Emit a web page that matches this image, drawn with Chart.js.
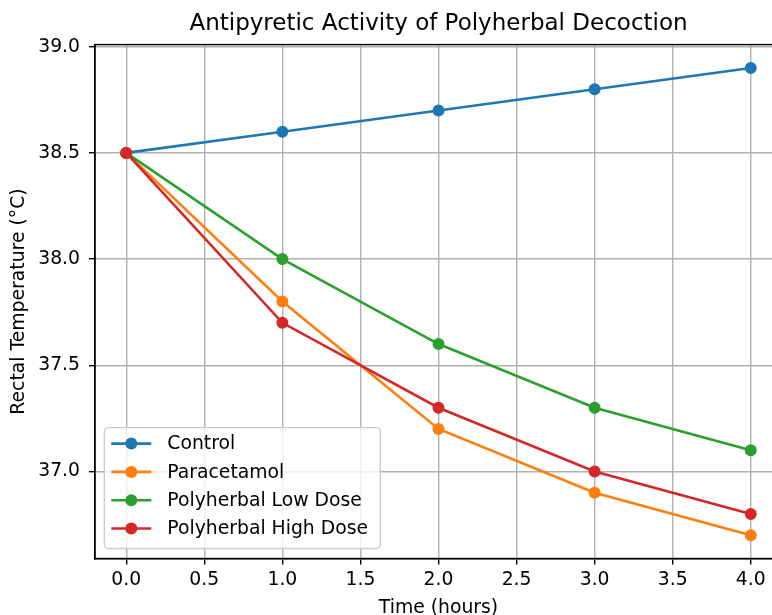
<!DOCTYPE html>
<html>
<head>
<meta charset="utf-8">
<title>Antipyretic Activity of Polyherbal Decoction</title>
<script src="https://cdn.jsdelivr.net/npm/chart.js@4.4.0/dist/chart.umd.min.js"></script>
<style>
    html, body { margin: 0; padding: 0; overflow: hidden; background: #fff; }
    #chart-wrap { width: 800px; height: 640px; }
</style>
</head>
<body>
<div id="chart-wrap"><canvas id="temp-chart" width="800" height="640"></canvas></div>
<script>
// Data
const timePoints = [0, 1, 2, 3, 4];
const controlTemps = [38.5, 38.6, 38.7, 38.8, 38.9];
const paracetamolTemps = [38.5, 37.8, 37.2, 36.9, 36.7];
const lowDoseTemps = [38.5, 38.0, 37.6, 37.3, 37.1];
const highDoseTemps = [38.5, 37.7, 37.3, 37.0, 36.8];
const seriesLabels = ['Control', 'Paracetamol', 'Polyherbal Low Dose', 'Polyherbal High Dose'];
const xTicks = [0, 0.5, 1, 1.5, 2, 2.5, 3, 3.5, 4];
const yTicks = [37.0, 37.5, 38.0, 38.5, 39.0];

// matplotlib tab10 colours
const seriesColors = ['#1f77b4', '#ff7f0e', '#2ca02c', '#d62728'];
const FONT = "'DejaVu Sans', 'Liberation Sans', sans-serif";
const TEXT_SIZE = 18.8;

// matplotlib-like 5% margins around the data range
function paddedRange(values) {
    const lo = Math.min(...values);
    const hi = Math.max(...values);
    const pad = (hi - lo) * 0.05;
    return [lo - pad, hi + pad];
}

// Frame on all four sides, like the axes spines
const axesFrame = {
    id: 'axesFrame',
    afterDatasetsDraw(chart) {
        const {ctx, chartArea} = chart;
        ctx.save();
        ctx.strokeStyle = '#000';
        ctx.lineWidth = 1.4;
        ctx.strokeRect(chartArea.left, chartArea.top, chartArea.right - chartArea.left, chartArea.bottom - chartArea.top);
        ctx.restore();
    }
};

// Legend box inside the lower left corner of the plot
const boxLegend = {
    id: 'boxLegend',
    afterDraw(chart) {
        const {ctx, chartArea} = chart;
        const datasets = chart.data.datasets;
        const rowH = 28.3;
        const boxW = 276;
        const boxH = 16 + rowH * (datasets.length - 1) + 20;
        const x0 = chartArea.left + 9.3;
        const y0 = chartArea.bottom - 10 - boxH;

        ctx.save();
        ctx.beginPath();
        ctx.roundRect(x0, y0, boxW, boxH, 4);
        ctx.fillStyle = 'rgba(255,255,255,0.8)';
        ctx.fill();
        ctx.strokeStyle = '#cccccc';
        ctx.lineWidth = 1.4;
        ctx.stroke();

        datasets.forEach((ds, i) => {
            const y = y0 + 16 + i * rowH;
            ctx.strokeStyle = ds.borderColor;
            ctx.lineWidth = ds.borderWidth;
            ctx.beginPath();
            ctx.moveTo(x0 + 7, y);
            ctx.lineTo(x0 + 47, y);
            ctx.stroke();

            ctx.beginPath();
            ctx.arc(x0 + 27, y, ds.pointRadius + 0.6, 0, Math.PI * 2);
            ctx.fillStyle = ds.backgroundColor;
            ctx.fill();

            ctx.fillStyle = '#000';
            ctx.font = `${TEXT_SIZE}px ${FONT}`;
            ctx.textBaseline = 'middle';
            ctx.textAlign = 'left';
            ctx.fillText(ds.label, x0 + 63, y + 1);
        });
        ctx.restore();
    }
};

function buildDatasets() {
    const seriesValues = [controlTemps, paracetamolTemps, lowDoseTemps, highDoseTemps];
    return seriesValues.map((values, i) => ({
        label: seriesLabels[i],
        data: timePoints.map((t, j) => ({x: t, y: values[j]})),
        borderColor: seriesColors[i],
        backgroundColor: seriesColors[i],
        borderWidth: 2.6,
        pointRadius: 5.4,
        pointBorderWidth: 1.2,
        pointBackgroundColor: seriesColors[i],
        pointBorderColor: seriesColors[i],
        tension: 0,
        // later series drawn on top, as in the reference
        order: seriesValues.length - i
    }));
}

function renderTempChart() {
    const ctx = document.getElementById('temp-chart');
    const [xMin, xMax] = paddedRange(timePoints);
    const [yMin, yMax] = paddedRange([...controlTemps, ...paracetamolTemps, ...lowDoseTemps, ...highDoseTemps]);

    const gridStyle = {
        color: '#b0b0b0',
        lineWidth: 1.4,
        tickColor: '#000',
        tickWidth: 1.4,
        tickLength: 6
    };

    new Chart(ctx, {
        type: 'line',
        data: { datasets: buildDatasets() },
        options: {
            responsive: false,
            animation: false,
            devicePixelRatio: 1,
            layout: { padding: { left: 0, top: 0, right: 18, bottom: 0 } },
            plugins: {
                legend: { display: false },
                tooltip: { enabled: false },
                title: {
                    display: true,
                    text: 'Antipyretic Activity of Polyherbal Decoction',
                    color: '#000',
                    fullSize: false,
                    font: { family: FONT, size: 23, weight: 'normal' },
                    padding: { top: 10.5, bottom: 6.5 }
                }
            },
            scales: {
                x: {
                    type: 'linear',
                    min: xMin,
                    max: xMax,
                    afterBuildTicks: (scale) => { scale.ticks = xTicks.map(v => ({value: v})); },
                    afterFit: (scale) => { scale.height = 81.5; },
                    grid: gridStyle,
                    border: { display: true, color: '#000', width: 1.4 },
                    ticks: {
                        color: '#000',
                        padding: 4,
                        maxRotation: 0,
                        autoSkip: false,
                        font: { family: FONT, size: TEXT_SIZE },
                        callback: (v) => Number(v).toFixed(1)
                    },
                    title: {
                        display: true,
                        text: 'Time (hours)',
                        color: '#000',
                        font: { family: FONT, size: TEXT_SIZE },
                        padding: { top: 0, bottom: 21 }
                    }
                },
                y: {
                    type: 'linear',
                    min: yMin,
                    max: yMax,
                    afterBuildTicks: (scale) => { scale.ticks = yTicks.map(v => ({value: v})); },
                    afterFit: (scale) => { scale.width = 95; },
                    grid: gridStyle,
                    border: { display: true, color: '#000', width: 1.4 },
                    ticks: {
                        color: '#000',
                        padding: 9,
                        autoSkip: false,
                        font: { family: FONT, size: TEXT_SIZE },
                        callback: (v) => Number(v).toFixed(1)
                    },
                    title: {
                        display: true,
                        text: 'Rectal Temperature (°C)',
                        color: '#000',
                        font: { family: FONT, size: TEXT_SIZE },
                        padding: { top: 7.5, bottom: 0 }
                    }
                }
            }
        },
        plugins: [axesFrame, boxLegend]
    });
}

try {
    renderTempChart();
} catch (error) {
    console.error('Error rendering chart:', error);
}
</script>
</body>
</html>
